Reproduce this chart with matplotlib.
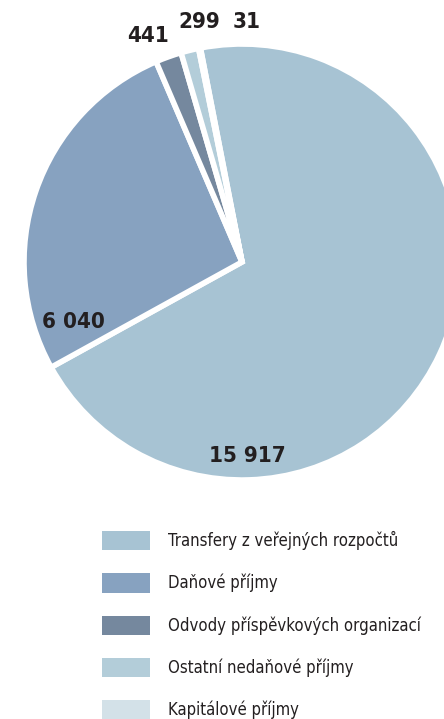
import matplotlib
matplotlib.use("Agg")
import matplotlib.pyplot as plt
from matplotlib.patches import Patch

plt.rcParams['font.family'] = ['DejaVu Sans']
plt.rcParams['font.stretch'] = 'condensed'

categories = ["Transfery z veřejných rozpočtů", "Daňové příjmy",
              "Odvody příspěvkových organizací", "Ostatní nedaňové příjmy",
              "Kapitálové příjmy"]
values = [15917, 6040, 441, 299, 31]
value_labels = ["15 917", "6 040", "441", "299", "31"]
colors = ["#a7c3d3", "#87a2c0", "#75889e", "#b3cdd9", "#d3e1e8"]

# label anchor positions in pie (radius=1) coordinates
label_pos = [(0.025, -0.89), (-0.775, -0.273), (-0.431, 1.037),
             (-0.195, 1.101), (0.023, 1.101)]

W, H = 444, 719
fig = plt.figure(figsize=(W / 100, H / 100), dpi=100)
cx, cy, R = 242, 262, 218
ax = fig.add_axes([(cx - R) / W, (H - cy - R) / H, 2 * R / W, 2 * R / H])
wedges, _ = ax.pie(values, colors=colors, startangle=101, counterclock=False,
                   radius=1, wedgeprops=dict(edgecolor="white", linewidth=4))
for w in wedges:
    w.set_clip_on(False)
ax.set_xlim(-1, 1)
ax.set_ylim(-1, 1)
ax.set_aspect('auto')
ax.axis('off')

for (x, y), t in zip(label_pos, value_labels):
    ax.text(x, y, t, ha='center', va='center', fontsize=16,
            fontweight='bold', color='#231f20', clip_on=False)

handles = [Patch(facecolor=c, edgecolor='none') for c in colors]
fig.legend(handles, categories, loc='upper left',
           bbox_to_anchor=(102 / W, 1 - 531 / H), frameon=False,
           fontsize=12, handlelength=2.9, handleheight=1.4,
           handletextpad=1.05, labelspacing=1.38, borderpad=0,
           borderaxespad=0, labelcolor='#231f20')

fig.savefig("out.png", dpi=100)
